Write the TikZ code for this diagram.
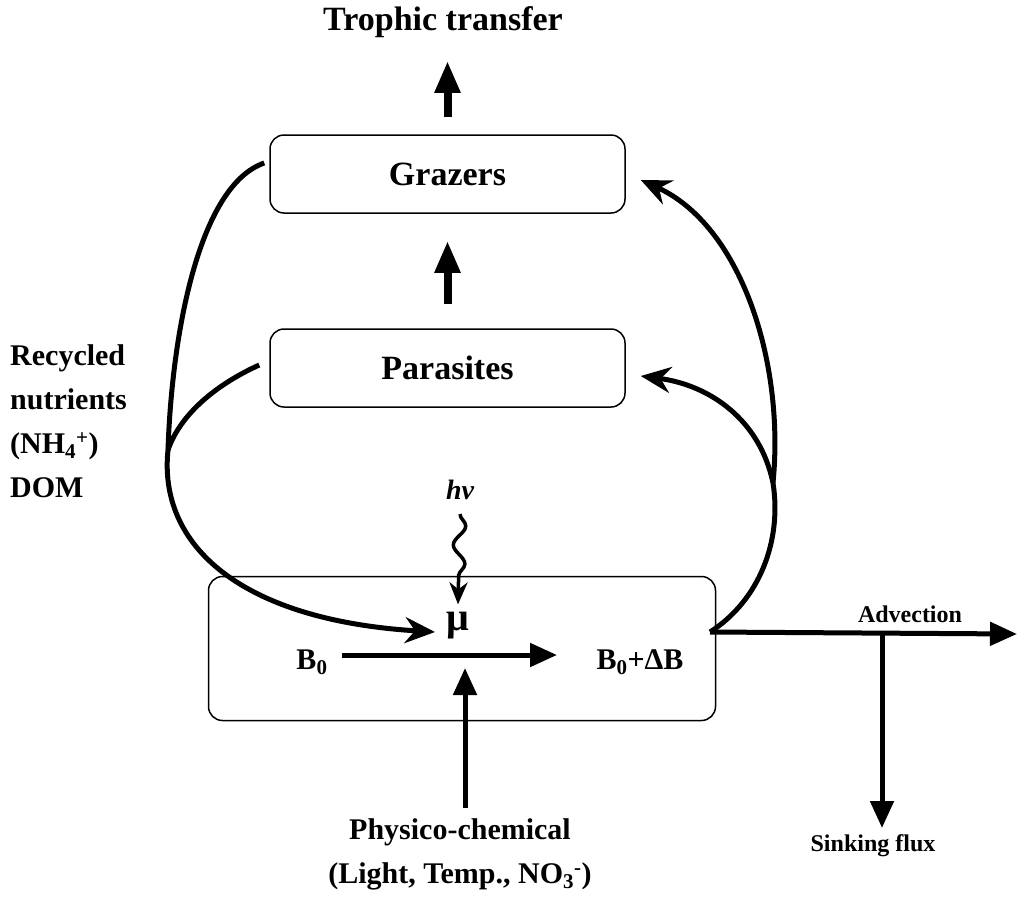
\documentclass[tikz,border=0pt]{standalone}
\usepackage{fontspec}
\setmainfont{Liberation Serif}
\usetikzlibrary{arrows.meta,decorations.pathmorphing}
\begin{document}
\begin{tikzpicture}[x=1pt,y=-1pt,
  box/.style={draw, line width=1.5pt, rounded corners=14pt, inner sep=0pt},
  big/.style={font=\fontsize{34}{40}\selectfont\bfseries, inner sep=0pt},
  mid/.style={font=\fontsize{30}{44}\selectfont\bfseries, inner sep=0pt},
  small/.style={font=\fontsize{24}{28}\selectfont\bfseries, inner sep=0pt},
  thick curve/.style={line width=5pt},
  curve/.style={line width=5pt, -{Stealth[length=30pt,width=26pt,inset=10pt]}},
  bigarrow/.style={line width=8pt, -{Triangle[length=32pt,width=24pt]}},
  arr/.style={line width=5pt, -{Triangle[length=27pt,width=23pt]}}
]
\useasboundingbox (0,0) rectangle (1019,905);

% boxes
\node[box, minimum width=355pt, minimum height=78pt] (graz) at (447.5,174) {};
\node[big] at (graz.center) {Grazers};
\node[box, minimum width=355pt, minimum height=78pt] (para) at (447.5,368) {};
\node[big] at (para.center) {Parasites};
\node[box, minimum width=507pt, minimum height=144pt] (core) at (462,648.5) {};

% texts
\node[big] (trophic) at (443,22) {Trophic transfer};
\node[mid, anchor=west, align=left] (recyc) at (10,421)
  {Recycled\\nutrients\\(NH\textsubscript{4}\textsuperscript{+})\\DOM};
\node[font=\fontsize{28}{30}\selectfont\bfseries\itshape, inner sep=0pt] (hv) at (460,490) {hν};
\node[font=\fontsize{40}{42}\selectfont\bfseries, inner sep=0pt] (mu) at (458,626) {μ};
\node[mid] (b0) at (312,662) {B\textsubscript{0}};
\node[mid] (b1) at (640,662) {B\textsubscript{0}+ΔB};
\node[small] (adv) at (910,614) {Advection};
\node[small] (sink) at (873,846) {Sinking flux};
\node[mid, align=center] (phys) at (460,854)
  {Physico-chemical\\(Light, Temp., NO\textsubscript{3}\textsuperscript{-})};

% coordinates
\coordinate (jl) at (168,450);
\coordinate (jr) at (773,483);
\coordinate (cr) at (710,632);
\coordinate (mutip) at (435,632);
\coordinate (gstart) at (342,655);
\coordinate (gtip) at (557,655);
\coordinate (advtip) at (1017,634);
\coordinate (sinktip) at (882,828);
\coordinate (sinkbase) at (882,634);
\coordinate (phystip) at (465,668);

% vertical fat arrows
\draw[bigarrow, shorten <=17pt, shorten >=23pt] (graz.north) -- (graz.north |- trophic.south);
\draw[bigarrow, shorten <=24pt, shorten >=27pt] (para.north) -- (graz.south);

% left recycling curves
\draw[thick curve] ([shift={(-5,-11)}]graz.west) .. controls (200,185) and (172,330) .. (jl);
\draw[thick curve] ([shift={(-10,-3)}]para.west) .. controls (215,385) and (180,415) .. (jl);
\draw[curve] (jl) .. controls (158,545) and (240,620) .. (mutip);

% right curves
\draw[thick curve] (cr) .. controls (760,600) and (782,540) .. (jr);
\draw[curve] (jr) .. controls (785,360) and (740,225) .. ([shift={(15,6)}]graz.east);
\draw[curve] (jr) .. controls (760,420) and (710,385) .. ([shift={(15,8)}]para.east);

% light
\draw[line width=3.5pt, -{Stealth[length=22pt,width=18pt,inset=7pt]},
      decorate, decoration={snake, amplitude=6pt, segment length=38pt, post length=22pt}]
  ([yshift=-14pt]hv.south) -- ([yshift=8pt]mu.north);

% growth arrow
\draw[arr] (gstart) -- (gtip);

% physico-chemical
\draw[arr] (phys.north -| phystip) ++(0,-10) -- (phystip);

% advection and sinking
\draw[arr] (cr) -- (advtip);
\draw[arr] (sinkbase) -- (sinktip);
\end{tikzpicture}
\end{document}
